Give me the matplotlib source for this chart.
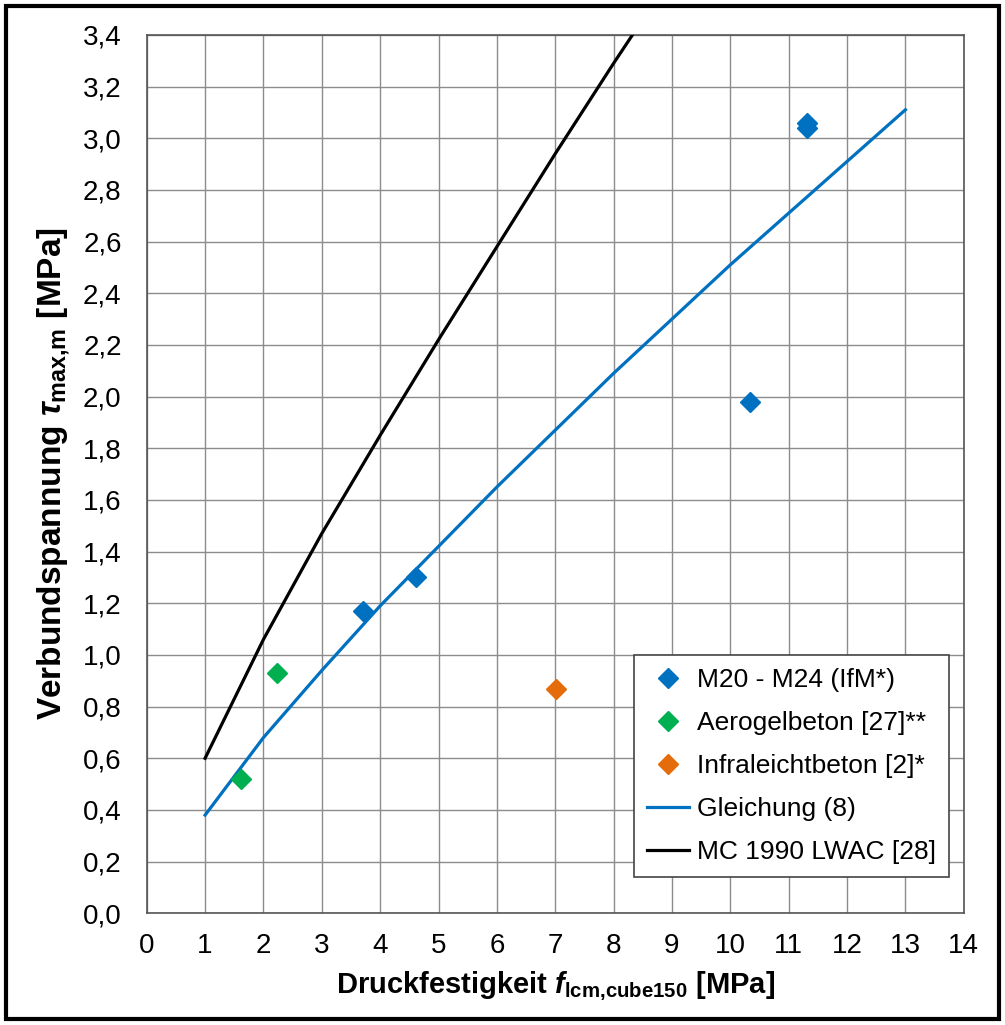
import matplotlib
matplotlib.use("Agg")
import matplotlib.pyplot as plt
from matplotlib.patches import Rectangle

# Data
m20_x = [3.70, 4.62, 10.33, 11.32, 11.32]
m20_y = [1.17, 1.30, 1.98, 3.04, 3.06]
aero_x = [1.61, 2.24]
aero_y = [0.52, 0.93]
infra_x = [7.02]
infra_y = [0.87]

gl_x = [1, 2, 3, 4, 5, 6, 7, 8, 9, 10, 11, 12, 13]
gl_y = [0.38, 0.68, 0.94, 1.19, 1.42, 1.65, 1.87, 2.09, 2.30, 2.51, 2.71, 2.91, 3.11]

mc_x = [1, 2, 3, 4, 5, 6, 7, 8, 9]
mc_y = [0.60, 1.06, 1.47, 1.85, 2.22, 2.58, 2.94, 3.29, 3.63]

labels = ["M20 - M24 (IfM*)", "Aerogelbeton [27]**", "Infraleichtbeton [2]*",
          "Gleichung (8)", "MC 1990 LWAC [28]"]

x_ticks = list(range(0, 15))
y_ticks = [round(0.2 * i, 1) for i in range(18)]

plt.rcParams['font.family'] = ['Liberation Sans', 'DejaVu Sans']
plt.rcParams['mathtext.fontset'] = 'custom'
plt.rcParams['mathtext.rm'] = 'Liberation Sans:bold'
plt.rcParams['mathtext.it'] = 'Liberation Sans:italic:bold'
plt.rcParams['mathtext.bf'] = 'Liberation Sans:bold'

blue = "#0070C0"
green = "#00B050"
orange = "#E46C0A"

fig = plt.figure(figsize=(10.05, 10.25), dpi=100)
ax = fig.add_axes([0.146, 0.109, 0.813, 0.857])

ax.plot(m20_x, m20_y, 'D', color=blue, ms=10, label=labels[0], zorder=4)
ax.plot(aero_x, aero_y, 'D', color=green, ms=10, label=labels[1], zorder=4)
ax.plot(infra_x, infra_y, 'D', color=orange, ms=10, label=labels[2], zorder=4)
ax.plot(gl_x, gl_y, '-', color=blue, lw=2.3, label=labels[3], zorder=3)
ax.plot(mc_x, mc_y, '-', color='black', lw=2.3, label=labels[4], zorder=3)

ax.set_xlim(0, 14)
ax.set_ylim(0, 3.4)
ax.set_xticks(x_ticks)
ax.set_xticklabels([str(v) for v in x_ticks], fontsize=20)
ax.set_yticks(y_ticks)
ax.set_yticklabels([f"{v:.1f}".replace('.', ',') for v in y_ticks], fontsize=20)
ax.tick_params(axis='x', length=0, pad=14)
ax.tick_params(axis='y', length=0, pad=18)

ax.grid(True, color='#8c8c8c', lw=1)
ax.set_axisbelow(True)
for s in ax.spines.values():
    s.set_color('#555555')
    s.set_linewidth(1.2)

ax.set_xlabel(r"Druckfestigkeit $f_{\mathrm{lcm{,}cube150}}$ [MPa]",
              fontsize=21, fontweight='bold', labelpad=8)
ax.set_ylabel(r"Verbundspannung $\tau_{\mathrm{max{,}m}}$ [MPa]",
              fontsize=24, fontweight='bold', labelpad=8)

leg = ax.legend(loc='lower right', bbox_to_anchor=(0.982, 0.041),
                fontsize=19, frameon=True, fancybox=False, framealpha=1,
                edgecolor='#444444', handlelength=1.6, handletextpad=0.3,
                borderpad=0.5, labelspacing=0.72, borderaxespad=0)
leg.get_frame().set_linewidth(1.2)

# black frame round the figure
fig.patches.append(Rectangle((0.006, 0.006), 0.988, 0.988, transform=fig.transFigure,
                             fill=False, edgecolor='black', lw=3))

fig.savefig("out.png", dpi=100)
